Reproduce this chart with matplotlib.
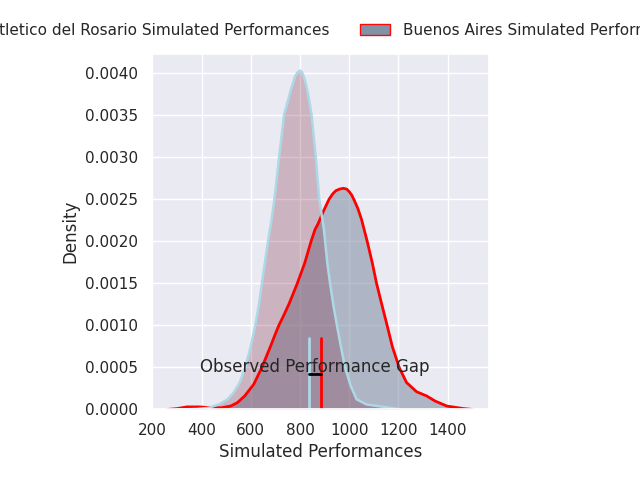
import matplotlib
matplotlib.use("Agg")
import matplotlib.pyplot as plt
from matplotlib.patches import Patch
import seaborn as sns

sns.set_theme(style="darkgrid")

# Atletico del Rosario density curve
atl_x = [300, 380, 430, 470, 505, 530, 555, 577, 600, 618, 632, 645, 657, 670, 684,
         696, 715, 735, 759, 770, 780, 790, 800, 808, 816, 824, 832, 847, 864, 878, 897,
         911, 922, 936, 950, 966, 983, 1006, 1030, 1070, 1140, 1200]
atl_y = [0.0, 0.000005, 0.00002, 0.00006, 0.00012, 0.00020, 0.00032, 0.00050, 0.00075,
         0.00100, 0.00123, 0.00150, 0.00174, 0.00200, 0.00225, 0.00250, 0.00300, 0.00350,
         0.00376, 0.00387, 0.00396, 0.00401, 0.00403, 0.00401, 0.00395, 0.00387, 0.00376,
         0.00350, 0.00300, 0.00250, 0.00214, 0.00174, 0.00150, 0.00123, 0.00100, 0.00075,
         0.00050, 0.00028, 0.00012, 0.00006, 0.00003, 0.000005]

# Buenos Aires density curve
ba_x = [262, 300, 340, 390, 440, 480, 518, 545, 575, 612, 645, 680, 700, 714, 734, 756,
        789, 819, 845, 861, 872, 894, 918, 932, 945, 960, 976, 990, 1000, 1010, 1020,
        1035, 1050, 1073, 1094, 1111, 1134, 1154, 1175, 1203, 1233, 1274, 1315, 1349,
        1397, 1465, 1500]
ba_y = [0.0, 0.00001, 0.00003, 0.00003, 0.00002, 0.00002, 0.00004, 0.00008, 0.00016,
        0.00030, 0.00050, 0.00075, 0.00090, 0.00100, 0.00112, 0.00126, 0.00150, 0.00174,
        0.00200, 0.00214, 0.00220, 0.00235, 0.00250, 0.00256, 0.00260, 0.00262, 0.00263,
        0.00262, 0.00259, 0.00255, 0.00249, 0.00239, 0.00226, 0.00200, 0.00174, 0.00150,
        0.00123, 0.00100, 0.00075, 0.00050, 0.00032, 0.00021, 0.00016, 0.00010, 0.00004,
        0.00001, 0.0]

observed_atl = 835
observed_ba = 884

labels = ["Atletico del Rosario Simulated Performances", "Buenos Aires Simulated Performances"]

atl_fill = "#76122e"
ba_fill = "#7d8ca0"

fig = plt.figure(figsize=(6.4, 4.8), dpi=100)
ax = fig.add_axes([0.237, 0.147, 0.527, 0.741])

ax.fill_between(ba_x, ba_y, 0, facecolor=ba_fill, alpha=0.55, linewidth=0)
ax.fill_between(atl_x, atl_y, 0, facecolor=atl_fill, alpha=0.25, linewidth=0)
ax.plot(ba_x, ba_y, color="red", linewidth=2, solid_joinstyle="round")
ax.plot(atl_x, atl_y, color="lightblue", linewidth=1.8, solid_joinstyle="round")

ax.axvline(observed_atl, ymax=0.2, color="lightblue", linewidth=2)
ax.axvline(observed_ba, ymax=0.2, color="red", linewidth=2)
ax.plot([observed_atl, observed_ba], [0.1, 0.1], color="black", linewidth=2,
        transform=ax.get_xaxis_transform())
ax.text((observed_atl + observed_ba) / 2, 0.0005, "Observed Performance Gap",
        ha="center", va="center", fontsize=12)

ax.set_xlim(197, 1568)
ax.set_ylim(0, 0.00423)
ax.set_xlabel("Simulated Performances")
ax.set_ylabel("Density")

handles = [Patch(facecolor=atl_fill, edgecolor="lightblue", alpha=0.6),
           Patch(facecolor=ba_fill, edgecolor="red", alpha=0.95)]
ax.legend(handles, labels, loc="center", bbox_to_anchor=(0.5, 1.065), ncol=2,
          frameon=False)

fig.savefig("out.png", dpi=100)
